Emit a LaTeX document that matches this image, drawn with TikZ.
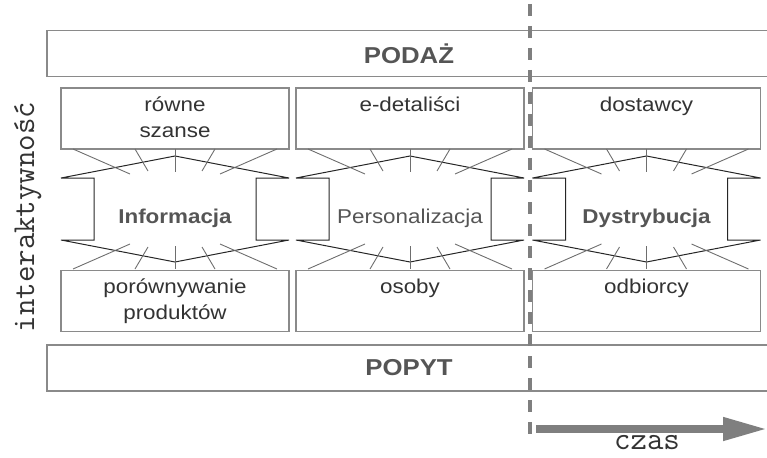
\documentclass[tikz,border=0pt]{standalone}
\usepackage{fontspec}
\setmainfont[FakeStretch=1.12]{Liberation Sans}
\usetikzlibrary{positioning, arrows.meta}
\definecolor{frame}{HTML}{8A8A8A}
\definecolor{ink}{HTML}{333333}
\definecolor{headink}{HTML}{555555}
\definecolor{spoke}{HTML}{6E6E6E}
\definecolor{axisgray}{HTML}{7F7F7F}
\tikzstyle{bar}=[draw=frame, line width=1.3pt, rectangle, minimum width=724pt, minimum height=46pt, text=headink, font=\fontsize{23}{26}\selectfont\bfseries]
\tikzstyle{cell}=[draw=frame, line width=1.3pt, fill=white, rectangle, minimum width=228pt, minimum height=61pt]
\tikzstyle{celltext}=[text=ink, align=center, inner sep=2pt, font=\fontsize{20}{26}\selectfont]
\tikzstyle{hub}=[text=headink, anchor=base, font=\fontsize{20}{24}\selectfont]
\tikzstyle{hexline}=[draw=black!85, line width=1pt, line join=miter]
\tikzstyle{spokeline}=[draw=spoke, line width=0.9pt]
\tikzstyle{axislabel}=[text=ink, anchor=base, inner sep=0pt, font=\ttfamily\fontsize{32}{34}\selectfont]

\begin{document}
\begin{tikzpicture}[x=1pt, y=-1pt]
    \useasboundingbox (0,0) rectangle (767,457);
    % supply and demand bars
    \node[bar] (podaz) at (409,53.5) {PODAŻ};
    \node[bar] (popyt) at (409,368) {POPYT};
    % upper and lower cells
    \node[cell] (c11) at (175,118.5) {};
    \node[cell] (c12) at (410,118.5) {};
    \node[cell] (c13) at (646.5,118.5) {};
    \node[cell] (c31) at (175,301) {};
    \node[cell] (c32) at (410,301) {};
    \node[cell] (c33) at (646.5,301) {};
    \node[celltext, below=7pt of c11.north] (t11) {równe\\szanse};
    \node[celltext, below=7pt of c12.north] (t12) {e-detaliści};
    \node[celltext, below=7pt of c13.north] (t13) {dostawcy};
    \node[celltext, below=7pt of c31.north] (t31) {porównywanie\\produktów};
    \node[celltext, below=7pt of c32.north] (t32) {osoby};
    \node[celltext, below=7pt of c33.north] (t33) {odbiorcy};
    % hexagons with spokes
    \foreach \cx in {175,410,646.5} {
        \begin{scope}[shift={(\cx,209)}]
            \draw[hexline] (-114,-31) -- (0,-53) -- (114,-31) -- (81,-31) -- (81,31)
                -- (114,31) -- (0,53) -- (-114,31) -- (-81,31) -- (-81,-31) -- cycle;
            \foreach \s in {1,-1} {
                \begin{scope}[yscale=\s]
                    \draw[spokeline] (-102,-60) -- (-45,-35);
                    \draw[spokeline] (102,-60) -- (45,-35);
                    \draw[spokeline] (-40,-60) -- (-27,-38);
                    \draw[spokeline] (40,-60) -- (27,-38);
                    \draw[spokeline] (0,-60) -- (0,-37);
                \end{scope}
            }
        \end{scope}
    }
    \node[hub] (info) at (175,223) {\bfseries Informacja};
    \node[hub] (pers) at (410,223) {Personalizacja};
    \node[hub] (dyst) at (646.5,223) {\bfseries Dystrybucja};
    % axes
    \node[axislabel, rotate=90] (inter) at (34,217) {interaktywność};
    \node[axislabel] (czas) at (647,449) {czas};
    \coordinate (dtop) at (530,0);
    \coordinate (dbot) at (530,434);
    \draw[axisgray, line width=3.5pt, dash pattern=on 12pt off 10pt, dash phase=18pt] (dtop) -- (dbot);
    \coordinate (tstart) at (536,429);
    \coordinate (tend) at (767,429);
    \draw[axisgray, line width=7.5pt, -{Triangle[length=44pt, width=22pt]}] (tstart) -- (tend);
\end{tikzpicture}
\end{document}
